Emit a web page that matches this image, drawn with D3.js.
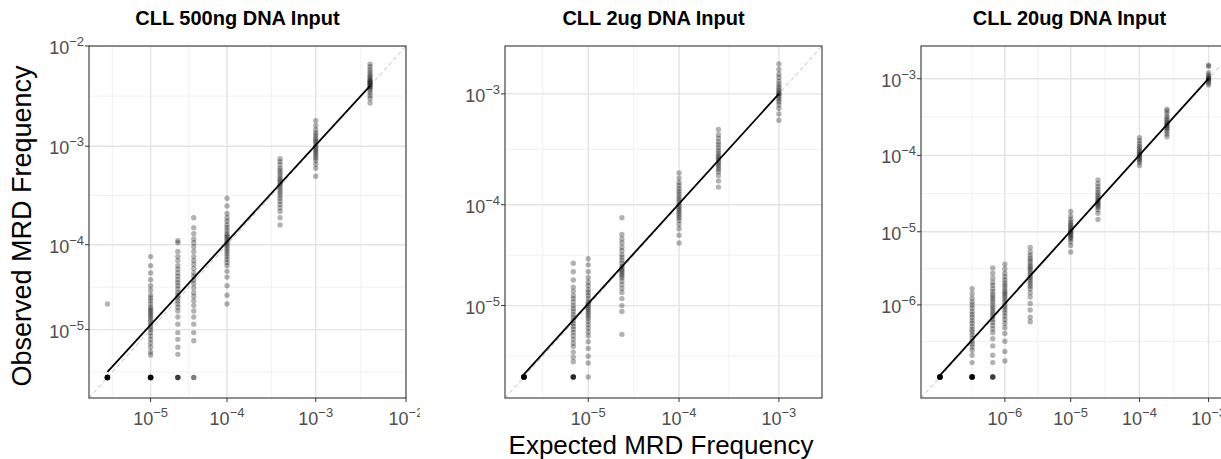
<!DOCTYPE html>
<html>
<head>
<meta charset="utf-8">
<script src="https://cdn.jsdelivr.net/npm/d3@7"></script>
<style>
  body { margin: 0; background: #fff; }
  text { font-family: "Liberation Sans", Arial, sans-serif; }
</style>
</head>
<body>
<div id="chart"></div>
<script>
// ---- data ----
var titles = ["CLL 500ng DNA Input", "CLL 2ug DNA Input", "CLL 20ug DNA Input"];
var pseudo = [5e-6, 3e-6, 1.3e-7];          // offset added before log10
var majorTicks = [
  [1e-5, 1e-4, 1e-3, 1e-2],
  [1e-5, 1e-4, 1e-3],
  [1e-6, 1e-5, 1e-4, 1e-3]
];

var expected500 = [0, 1e-5, 2.5e-5, 4e-5, 1e-4, 4e-4, 1e-3, 4e-3];
var observed500 = [
  [0,0,0,0,0,0,0,0,0,0,0,0,2.2e-5],
  [7.5e-5,6e-5,5e-5,4.2e-5,3.6e-5,3.2e-5,2.8e-5,2.6e-5,2.4e-5,2.2e-5,2e-5,1.9e-5,1.8e-5,1.7e-5,1.6e-5,1.5e-5,1.4e-5,1.3e-5,1.2e-5,1.1e-5,1e-5,9e-6,8e-6,7e-6,6e-6,5e-6,4e-6,3.4e-6,0,0,0,0,0,0,0,0,0,0],
  [1.1e-4,1.05e-4,8.5e-5,7.5e-5,6.8e-5,6e-5,5.5e-5,5e-5,4.6e-5,4.2e-5,3.9e-5,3.6e-5,3.3e-5,3e-5,2.8e-5,2.6e-5,2.4e-5,2.2e-5,2e-5,1.8e-5,1.5e-5,1.2e-5,9e-6,7e-6,5e-6,3.5e-6,0,0,0,0],
  [1.9e-4,1.5e-4,1.3e-4,1.15e-4,1.05e-4,9.5e-5,8.5e-5,7.5e-5,6.8e-5,6.2e-5,5.6e-5,5e-5,4.6e-5,4.2e-5,3.8e-5,3.4e-5,3e-5,2.7e-5,2.4e-5,2.1e-5,1.8e-5,1.5e-5,1.2e-5,9e-6,6.6e-6,0,0],
  [3e-4,2.5e-4,2.1e-4,1.9e-4,1.75e-4,1.6e-4,1.5e-4,1.4e-4,1.3e-4,1.25e-4,1.2e-4,1.15e-4,1.1e-4,1.05e-4,1e-4,9.5e-5,9e-5,8.5e-5,8e-5,7.5e-5,7e-5,6.5e-5,6e-5,5.2e-5,4.5e-5,3.6e-5,2.8e-5,2.2e-5],
  [7.5e-4,7e-4,6.5e-4,6e-4,5.7e-4,5.4e-4,5.1e-4,4.8e-4,4.6e-4,4.4e-4,4.2e-4,4e-4,3.8e-4,3.6e-4,3.4e-4,3.2e-4,3e-4,2.8e-4,2.6e-4,2.4e-4,2.2e-4,1.9e-4,1.6e-4],
  [1.8e-3,1.6e-3,1.45e-3,1.35e-3,1.28e-3,1.2e-3,1.15e-3,1.1e-3,1.05e-3,1e-3,9.6e-4,9.2e-4,8.8e-4,8.4e-4,8e-4,7.6e-4,7.2e-4,6.6e-4,6e-4,5e-4],
  [6.6e-3,6.2e-3,5.8e-3,5.5e-3,5.2e-3,5e-3,4.8e-3,4.6e-3,4.5e-3,4.4e-3,4.3e-3,4.2e-3,4.1e-3,4e-3,3.9e-3,3.8e-3,3.6e-3,3.4e-3,3.2e-3,3e-3,2.7e-3]
];
var fit500 = [[0, 7e-7], [4e-3, 4e-3]];

var expected2 = [0, 6.25e-6, 1e-5, 2.5e-5, 1e-4, 2.5e-4, 1e-3];
var observed2 = [
  [0,0,0,0,0,0,0,0,0,0,0,0],
  [2.8e-5,2.3e-5,1.9e-5,1.6e-5,1.45e-5,1.3e-5,1.2e-5,1.1e-5,1e-5,9.2e-6,8.5e-6,7.8e-6,7.2e-6,6.6e-6,6e-6,5.5e-6,5e-6,4.5e-6,4e-6,3.5e-6,3e-6,2.6e-6,2e-6,1.5e-6,1.1e-6,0,0,0,0,0],
  [3.1e-5,2.7e-5,2.3e-5,2e-5,1.8e-5,1.65e-5,1.5e-5,1.4e-5,1.3e-5,1.2e-5,1.1e-5,1.05e-5,1e-5,9.5e-6,9e-6,8.5e-6,8e-6,7.5e-6,7e-6,6.4e-6,5.8e-6,5.2e-6,4.6e-6,4e-6,3.2e-6,2.4e-6,1.6e-6,1e-6,0],
  [7.6e-5,5.3e-5,4.8e-5,4.4e-5,4e-5,3.7e-5,3.4e-5,3.2e-5,3e-5,2.8e-5,2.6e-5,2.5e-5,2.4e-5,2.3e-5,2.2e-5,2.1e-5,2e-5,1.85e-5,1.7e-5,1.55e-5,1.4e-5,1.2e-5,1e-5,8.5e-6,4.2e-6],
  [1.95e-4,1.75e-4,1.6e-4,1.5e-4,1.4e-4,1.32e-4,1.25e-4,1.18e-4,1.12e-4,1.06e-4,1e-4,9.6e-5,9.2e-5,8.8e-5,8.4e-5,8e-5,7.6e-5,7.2e-5,6.6e-5,6e-5,5.2e-5,4.4e-5],
  [4.8e-4,4.3e-4,4e-4,3.7e-4,3.5e-4,3.3e-4,3.1e-4,2.95e-4,2.8e-4,2.7e-4,2.6e-4,2.5e-4,2.4e-4,2.3e-4,2.2e-4,2.1e-4,2e-4,1.85e-4,1.65e-4,1.45e-4],
  [1.85e-3,1.65e-3,1.5e-3,1.4e-3,1.3e-3,1.22e-3,1.16e-3,1.1e-3,1.06e-3,1.02e-3,1e-3,9.7e-4,9.3e-4,8.9e-4,8.5e-4,8e-4,7.4e-4,6.6e-4,5.8e-4]
];
var fit2 = [[0, 1.7e-7], [1e-3, 1e-3]];

var expected20 = [0, 2.5e-7, 6.25e-7, 1e-6, 2.5e-6, 1e-5, 2.5e-5, 1e-4, 2.5e-4, 1e-3];
var observed20 = [
  [0,0,0,0,0,0,0,0,0,0,0,0],
  [1.7e-6,1.45e-6,1.25e-6,1.1e-6,1e-6,9e-7,8e-7,7.2e-7,6.5e-7,5.8e-7,5.2e-7,4.6e-7,4.1e-7,3.7e-7,3.3e-7,2.9e-7,2.5e-7,2.2e-7,1.9e-7,1.6e-7,1.2e-7,7e-8,0,0,0,0,0,0,0,0,0,0],
  [3.3e-6,2.8e-6,2.4e-6,2.1e-6,1.9e-6,1.7e-6,1.55e-6,1.4e-6,1.3e-6,1.2e-6,1.1e-6,1e-6,9.2e-7,8.5e-7,7.8e-7,7.2e-7,6.6e-7,6e-7,5.4e-7,4.8e-7,4.2e-7,3.6e-7,2.8e-7,2e-7,1.2e-7,7e-8,0,0,0,0],
  [3.7e-6,3.2e-6,2.8e-6,2.5e-6,2.25e-6,2.05e-6,1.9e-6,1.75e-6,1.6e-6,1.5e-6,1.4e-6,1.3e-6,1.2e-6,1.1e-6,1e-6,9.2e-7,8.4e-7,7.6e-7,6.8e-7,6e-7,5.2e-7,4.4e-7,3.5e-7,2.5e-7,1.5e-7,8e-8],
  [6.2e-6,5.4e-6,4.9e-6,4.5e-6,4.2e-6,3.9e-6,3.6e-6,3.4e-6,3.2e-6,3e-6,2.8e-6,2.6e-6,2.45e-6,2.3e-6,2.15e-6,2e-6,1.85e-6,1.7e-6,1.5e-6,1.3e-6,1.05e-6,8.4e-7,6.5e-7,5.5e-7],
  [1.85e-5,1.6e-5,1.45e-5,1.35e-5,1.27e-5,1.2e-5,1.14e-5,1.08e-5,1.03e-5,1e-5,9.6e-6,9.2e-6,8.8e-6,8.4e-6,8e-6,7.4e-6,6.6e-6,5.4e-6],
  [4.8e-5,4.3e-5,3.9e-5,3.6e-5,3.3e-5,3.1e-5,2.9e-5,2.75e-5,2.6e-5,2.5e-5,2.4e-5,2.3e-5,2.2e-5,2.1e-5,1.95e-5,1.75e-5,1.45e-5],
  [1.7e-4,1.55e-4,1.42e-4,1.32e-4,1.24e-4,1.17e-4,1.11e-4,1.06e-4,1.02e-4,9.8e-5,9.4e-5,9e-5,8.6e-5,8.1e-5,7.4e-5],
  [4e-4,3.8e-4,3.5e-4,3.2e-4,3e-4,2.85e-4,2.7e-4,2.6e-4,2.5e-4,2.4e-4,2.3e-4,2.2e-4,2.05e-4,1.9e-4,1.75e-4],
  [1.5e-3,1.45e-3,1.2e-3,1.12e-3,1.06e-3,1.02e-3,1e-3,9.7e-4,9.3e-4,8.8e-4,8.3e-4]
];
var fit20 = [[0, 6e-9], [1e-3, 1e-3]];

// ---- layout ----
var svgWidth = 1221, svgHeight = 459;
var boxes = [
  { x0: 89,  domain: [-5.505, -2.0],  clip: 420 },
  { x0: 505, domain: [-5.71, -2.572], clip: 860 },
  { x0: 921, domain: [-7.16, -2.574], clip: 1300 }
];
var boxW = 317, plotTop = 46, plotBottom = 398;
var panels = [
  { exp: expected500, obs: observed500, fit: fit500 },
  { exp: expected2,   obs: observed2,   fit: fit2 },
  { exp: expected20,  obs: observed20,  fit: fit20 }
];

var svg = d3.select("#chart").append("svg")
  .attr("width", svgWidth).attr("height", svgHeight);

var defs = svg.append("defs");

panels.forEach(function(p, i) {
  var b = boxes[i], c = pseudo[i];
  var t = function(v) { return Math.log10(v + c); };
  var x = d3.scaleLinear().domain(b.domain).range([b.x0, b.x0 + boxW]);
  var y = d3.scaleLinear().domain(b.domain).range([plotBottom, plotTop]);

  defs.append("clipPath").attr("id", "clipL" + i)
    .append("rect").attr("x", b.x0 - 90).attr("y", 0)
    .attr("width", b.clip - b.x0 + 90).attr("height", svgHeight);
  defs.append("clipPath").attr("id", "clipP" + i)
    .append("rect").attr("x", b.x0).attr("y", plotTop)
    .attr("width", boxW).attr("height", plotBottom - plotTop);

  var g = svg.append("g").attr("clip-path", "url(#clipL" + i + ")");
  var plot = g.append("g").attr("clip-path", "url(#clipP" + i + ")");

  var majors = majorTicks[i].map(t);
  var minors = [];
  majors.forEach(function(m, k) {
    if (k > 0) minors.push((m + majors[k - 1]) / 2);
  });
  minors.push(majors[0] - (majors[1] - majors[0]) / 2);
  minors.push(majors[majors.length - 1] + (majors[majors.length - 1] - majors[majors.length - 2]) / 2);

  // grid
  plot.selectAll(".minx").data(minors).enter().append("line")
    .attr("x1", d => x(d)).attr("x2", d => x(d)).attr("y1", plotTop).attr("y2", plotBottom)
    .attr("stroke", "#ededed").attr("stroke-width", 0.8);
  plot.selectAll(".miny").data(minors).enter().append("line")
    .attr("y1", d => y(d)).attr("y2", d => y(d)).attr("x1", b.x0).attr("x2", b.x0 + boxW)
    .attr("stroke", "#ededed").attr("stroke-width", 0.8);
  plot.selectAll(".majx").data(majors).enter().append("line")
    .attr("x1", d => x(d)).attr("x2", d => x(d)).attr("y1", plotTop).attr("y2", plotBottom)
    .attr("stroke", "#e3e3e3").attr("stroke-width", 1.4);
  plot.selectAll(".majy").data(majors).enter().append("line")
    .attr("y1", d => y(d)).attr("y2", d => y(d)).attr("x1", b.x0).attr("x2", b.x0 + boxW)
    .attr("stroke", "#e3e3e3").attr("stroke-width", 1.4);

  // identity line
  plot.append("line")
    .attr("x1", x(b.domain[0])).attr("y1", y(b.domain[0]))
    .attr("x2", x(b.domain[1])).attr("y2", y(b.domain[1]))
    .attr("stroke", "#b3b3b3").attr("stroke-width", 0.9).attr("stroke-dasharray", "4,3");

  // points
  var pts = [];
  p.exp.forEach(function(e, k) {
    p.obs[k].forEach(function(o) { pts.push({ e: e, o: o }); });
  });
  plot.selectAll("circle").data(pts).enter().append("circle")
    .attr("cx", d => x(t(d.e))).attr("cy", d => y(t(d.o)))
    .attr("r", 2.7).attr("fill", "#000").attr("opacity", 0.3);

  // fitted line
  plot.append("path")
    .datum(p.fit)
    .attr("d", d3.line().x(d => x(t(d[0]))).y(d => y(t(d[1]))))
    .attr("stroke", "#000").attr("stroke-width", 1.8).attr("fill", "none");

  // border
  g.append("rect").attr("x", b.x0).attr("y", plotTop).attr("width", boxW).attr("height", plotBottom - plotTop)
    .attr("fill", "none").attr("stroke", "#333").attr("stroke-width", 1.1);

  // ticks and labels
  majorTicks[i].forEach(function(v) {
    var px = x(t(v)), py = y(t(v));
    var ex = "\u2212" + Math.round(-Math.log10(v));
    g.append("line").attr("x1", px).attr("x2", px).attr("y1", plotBottom).attr("y2", plotBottom + 4)
      .attr("stroke", "#333");
    var tx = g.append("text").attr("x", px).attr("y", plotBottom + 27)
      .attr("text-anchor", "middle").attr("fill", "#4d4d4d").style("font-size", "18px");
    tx.append("tspan").text("10");
    tx.append("tspan").attr("dy", -8).style("font-size", "13px").text(ex);
    if (py >= plotTop - 1) {
      g.append("line").attr("x1", b.x0 - 4).attr("x2", b.x0).attr("y1", py).attr("y2", py)
        .attr("stroke", "#333");
      var ty = g.append("text").attr("x", b.x0 - 5).attr("y", py + 8)
        .attr("text-anchor", "end").attr("fill", "#4d4d4d").style("font-size", "18px");
      ty.append("tspan").text("10");
      ty.append("tspan").attr("dy", -8).style("font-size", "13px").text(ex);
    }
  });

  svg.append("text").attr("x", b.x0 + boxW / 2 - 10).attr("y", 25)
    .attr("text-anchor", "middle").attr("font-weight", "bold").style("font-size", "20px")
    .attr("fill", "#000").text(titles[i]);
});

svg.append("text")
  .attr("transform", "translate(31, 226) rotate(-90)")
  .attr("text-anchor", "middle").style("font-size", "27px").attr("fill", "#000")
  .text("Observed MRD Frequency");

svg.append("text")
  .attr("x", 661).attr("y", 454)
  .attr("text-anchor", "middle").style("font-size", "26px").attr("fill", "#000")
  .text("Expected MRD Frequency");
</script>
</body>
</html>
